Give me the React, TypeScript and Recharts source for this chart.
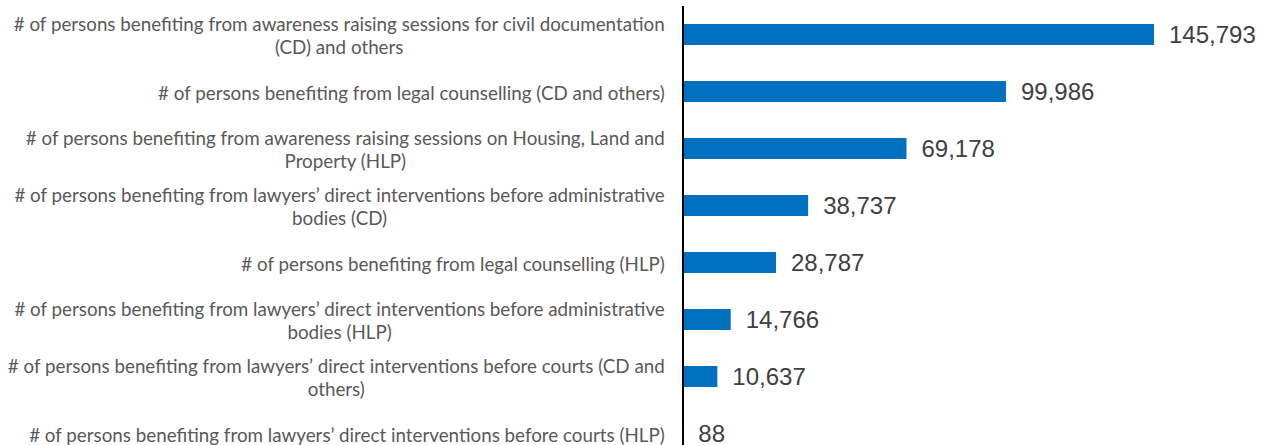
import { Bar, BarChart, LabelList, XAxis, YAxis } from "recharts";

const categories = [
  "# of persons benefiting from awareness raising sessions for civil documentation (CD) and others",
  "# of persons benefiting from legal counselling (CD and others)",
  "# of persons benefiting from awareness raising sessions on Housing, Land and Property (HLP)",
  "# of persons benefiting from lawyers\u2019 direct interventions before administrative bodies (CD)",
  "# of persons benefiting from legal counselling (HLP)",
  "# of persons benefiting from lawyers\u2019 direct interventions before administrative bodies (HLP)",
  "# of persons benefiting from lawyers\u2019 direct interventions before courts (CD and others)",
  "# of persons benefiting from lawyers\u2019 direct interventions before courts (HLP)"
];
const persons = [145793, 99986, 69178, 38737, 28787, 14766, 10637, 88];

const data = categories.map((name, i) => ({ name, value: persons[i] }));

const LABEL_SIZE = 18.8;
const LABEL_FONT = `${LABEL_SIZE}px Lato`;
const MAX_LINE = 664;

let canvas: HTMLCanvasElement | null = null;
function measure(text: string) {
  if (!canvas) canvas = document.createElement("canvas");
  const ctx = canvas.getContext("2d")!;
  ctx.font = LABEL_FONT;
  return ctx.measureText(text).width;
}

function wrap(text: string) {
  const words = text.split(" ");
  const lines: string[] = [];
  let cur = "";
  for (const w of words) {
    const next = cur ? cur + " " + w : w;
    if (cur && measure(next) > MAX_LINE) {
      lines.push(cur);
      cur = w;
    } else {
      cur = next;
    }
  }
  if (cur) lines.push(cur);
  return lines;
}

function CategoryTick(props: any) {
  const { x, y, payload } = props;
  const lines = wrap(payload.value);
  const widest = Math.max(...lines.map(measure));
  const right = x - 10;
  const cx = right - widest / 2;
  const lineH = 23;
  const top = y - ((lines.length - 1) * lineH) / 2;
  return (
    <text fontFamily="Lato" fontSize={LABEL_SIZE} fill="#595959" textAnchor="middle" dominantBaseline="central">
      {lines.map((l, i) => (
        <tspan key={i} x={lines.length > 1 ? cx : right - measure(l) / 2} y={top + i * lineH}>
          {l}
        </tspan>
      ))}
    </text>
  );
}

export default function App() {
  return (
    <div style={{ position: "absolute", left: 0, top: 0, width: 1265, height: 445, overflow: "hidden", background: "#fff" }}>
      <BarChart
        width={1265}
        height={470}
        data={data}
        layout="vertical"
        margin={{ top: 6, right: 111, bottom: 8, left: 0 }}
      >
        <XAxis type="number" hide domain={[0, "dataMax"]} />
        <YAxis
          type="category"
          dataKey="name"
          width={683}
          tickLine={false}
          axisLine={{ stroke: "#000", strokeWidth: 2 }}
          tick={<CategoryTick />}
          interval={0}
        />
        <Bar dataKey="value" fill="#0070c0" barSize={21} isAnimationActive={false}>
          <LabelList
            dataKey="value"
            position="right"
            offset={15}
            fill="#404040"
            fontSize={24}
            fontFamily="Liberation Sans, Arial, sans-serif"
            formatter={(v: any) => Number(v).toLocaleString("en-US")}
          />
        </Bar>
      </BarChart>
    </div>
  );
}
